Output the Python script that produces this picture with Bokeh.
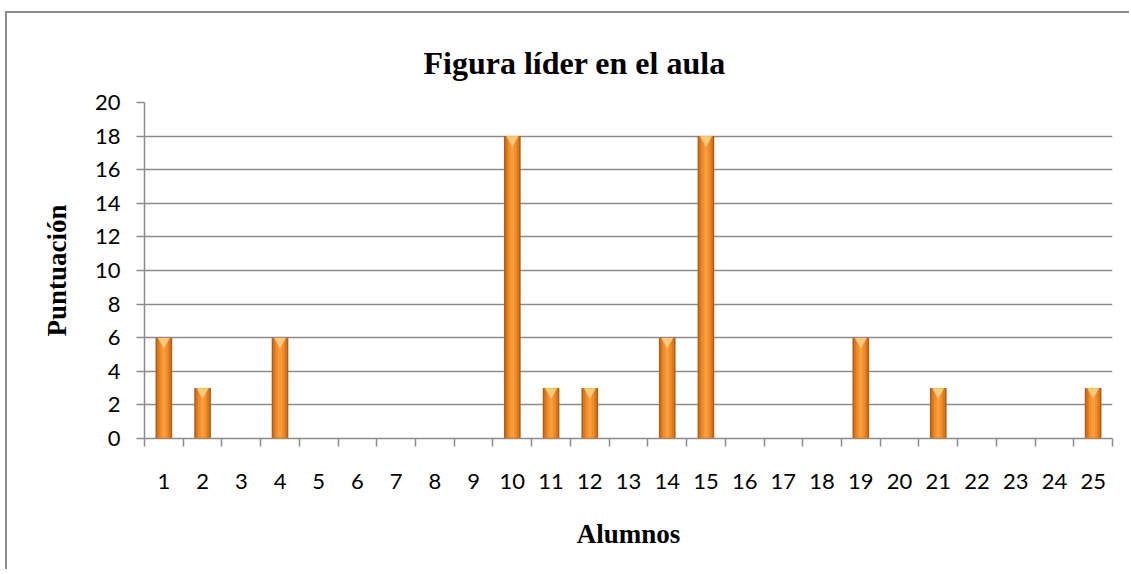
from bokeh.plotting import figure
from bokeh.models import FixedTicker, Range1d, ColumnDataSource
from bokeh.embed import file_html
from bokeh.resources import INLINE

# ---- data ----
alumnos = list(range(1, 26))
puntuacion = [6, 3, 0, 6, 0, 0, 0, 0, 0, 18, 3, 3, 0, 6, 18, 0, 0, 0, 6, 0, 3, 0, 0, 0, 3]
y_ticks = [0, 2, 4, 6, 8, 10, 12, 14, 16, 18, 20]
titulo = "Figura líder en el aula"
x_label = "Alumnos"
y_label = "Puntuación"

xs = [a for a, v in zip(alumnos, puntuacion) if v > 0]
vs = [v for v in puntuacion if v > 0]
src = ColumnDataSource(dict(x=xs, top=vs, bevel=[v - 0.22 for v in vs]))

p = figure(width=1124, height=558, output_backend="svg", toolbar_location=None,
           x_range=Range1d(0.5, 25.5), y_range=Range1d(0, 20),
           min_border_left=137, min_border_right=19, min_border_top=89,
           min_border_bottom=133, title=titulo,
           styles={"border-left": "2px solid #8c8c8c", "border-top": "2px solid #8c8c8c",
                   "margin-left": "5px", "margin-top": "11px"})

p.outline_line_color = None
p.background_fill_color = "white"
p.border_fill_color = "white"

# title
p.title.text_font = "Liberation Serif"
p.title.text_font_style = "bold"
p.title.text_font_size = "32px"
p.title.align = "left"
p.title.text_color = "black"
p.title.offset = 279
p.title.standoff = 43

# bars (layered for a shaded cylinder look)
p.vbar(x="x", top="top", bottom=0, width=0.43, source=src, fill_color="#B35C17", line_color=None)
p.vbar(x="x", top="top", bottom=0, width=0.35, source=src, fill_color="#DA7820", line_color=None)
p.vbar(x="x", top="top", bottom=0, width=0.23, source=src, fill_color="#F28E2A", line_color=None)
p.vbar(x="x", top="top", bottom=0, width=0.10, source=src, fill_color="#F89D3C", line_color=None)
p.scatter(x="x", y="bevel", source=src, marker="inverted_triangle", size=12,
          fill_color="#FBC978", line_color=None)

# grid
p.xgrid.grid_line_color = None
p.ygrid.grid_line_color = "#8c8c8c"
p.ygrid.grid_line_width = 1.5
p.ygrid.ticker = FixedTicker(ticks=y_ticks)

# y axis
p.yaxis.ticker = FixedTicker(ticks=y_ticks)
p.yaxis.axis_line_color = "#8c8c8c"
p.yaxis.axis_line_width = 1.5
p.yaxis.major_tick_line_color = "#8c8c8c"
p.yaxis.major_tick_line_width = 1.5
p.yaxis.major_tick_in = 0
p.yaxis.major_tick_out = 8
p.yaxis.minor_tick_line_color = None
p.yaxis.major_label_text_font = "Lato"
p.yaxis.major_label_text_font_size = "22px"
p.yaxis.major_label_text_color = "black"
p.yaxis.major_label_standoff = 16
p.yaxis.axis_label = y_label
p.yaxis.axis_label_text_font = "Liberation Serif"
p.yaxis.axis_label_text_font_style = "bold"
p.yaxis.axis_label_text_font_size = "27px"
p.yaxis.axis_label_text_color = "black"
p.yaxis.axis_label_standoff = 20

# x axis
p.xaxis.ticker = FixedTicker(ticks=alumnos, minor_ticks=[a - 0.5 for a in alumnos] + [alumnos[-1] + 0.5])
p.xaxis.axis_line_color = "#8c8c8c"
p.xaxis.axis_line_width = 1.5
p.xaxis.major_tick_line_color = None
p.xaxis.major_tick_in = 0
p.xaxis.major_tick_out = 0
p.xaxis.minor_tick_line_color = "#8c8c8c"
p.xaxis.minor_tick_line_width = 1.5
p.xaxis.minor_tick_in = 0
p.xaxis.minor_tick_out = 8
p.xaxis.major_label_text_font = "Lato"
p.xaxis.major_label_text_font_size = "22px"
p.xaxis.major_label_text_color = "black"
p.xaxis.major_label_standoff = 27
p.xaxis.axis_label = x_label
p.xaxis.axis_label_text_font = "Liberation Serif"
p.xaxis.axis_label_text_font_style = "bold"
p.xaxis.axis_label_text_font_size = "27px"
p.xaxis.axis_label_text_color = "black"
p.xaxis.axis_label_standoff = 27

open("out.html", "w").write(file_html(p, INLINE))
